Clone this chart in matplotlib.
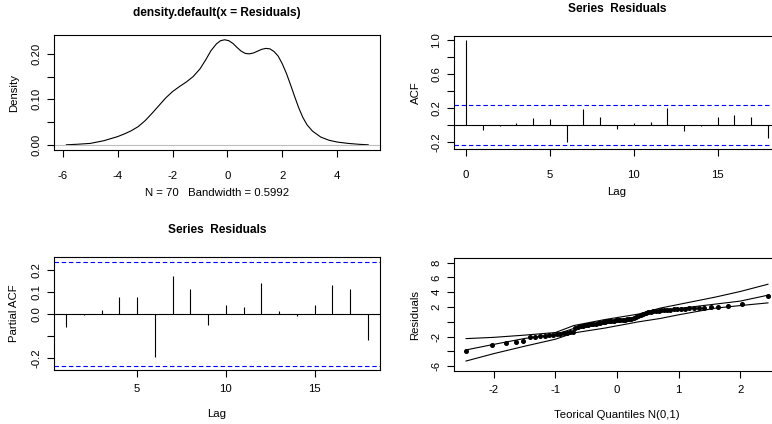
import numpy as np
import matplotlib
matplotlib.use("Agg")
import matplotlib.pyplot as plt
from statistics import NormalDist

plt.rcParams['font.family'] = ['Liberation Sans', 'DejaVu Sans']
plt.rcParams['axes.unicode_minus'] = False

# Kernel density of the residuals (x grid, density)
dens_x = [-5.87, -5.5, -5.0, -4.5, -4.0, -3.75, -3.5, -3.25, -3.0, -2.75, -2.5, -2.25,
          -2.0, -1.75, -1.5, -1.25, -1.0, -0.8, -0.6, -0.4, -0.25, -0.1, 0.05, 0.2,
          0.35, 0.5, 0.65, 0.8, 0.95, 1.1, 1.25, 1.4, 1.55, 1.7, 1.85, 2.0, 2.15,
          2.3, 2.45, 2.6, 2.75, 2.9, 3.1, 3.4, 3.7, 4.0, 4.4, 4.8, 5.13]
dens_y = [0.0, 0.001, 0.003, 0.009, 0.018, 0.024, 0.031, 0.040, 0.053, 0.069, 0.086,
          0.103, 0.117, 0.128, 0.138, 0.150, 0.167, 0.186, 0.207, 0.222, 0.229, 0.231,
          0.229, 0.223, 0.214, 0.206, 0.201, 0.200, 0.202, 0.206, 0.210, 0.212, 0.211,
          0.205, 0.195, 0.178, 0.157, 0.132, 0.106, 0.081, 0.060, 0.044, 0.030, 0.017,
          0.010, 0.006, 0.003, 0.001, 0.0]
n_obs = 70
bandwidth = 0.5992

# Autocorrelations
acf_lags = list(range(0, 19))
acf_vals = [1.0, -0.060, -0.010, 0.016, 0.075, 0.067, -0.208, 0.189, 0.098, -0.051,
            0.020, 0.028, 0.200, -0.071, -0.016, 0.094, 0.114, 0.094, -0.157]
pacf_lags = list(range(1, 19))
pacf_vals = [-0.060, -0.005, 0.016, 0.075, 0.076, -0.196, 0.172, 0.113, -0.051, 0.039,
             0.031, 0.140, 0.013, -0.009, 0.040, 0.131, 0.113, -0.118]
conf = 1.96 / np.sqrt(n_obs)

# Sorted residuals for the normal QQ plot
resid_sorted = [-4.0, -3.2, -2.8, -2.68, -2.66, -2.12, -2.03, -1.94, -1.88, -1.83,
                -1.78, -1.7, -1.62, -1.54, -1.47, -1.4, -1.32, -0.78, -0.7, -0.63,
                -0.56, -0.49, -0.42, -0.36, -0.3, -0.24, -0.18, -0.12, -0.06, 0.0,
                0.05, 0.09, 0.13, 0.16, 0.19, 0.22, 0.25, 0.28, 0.3, 0.32,
                0.35, 0.4, 0.47, 0.6, 0.8, 0.98, 1.12, 1.22, 1.3, 1.37,
                1.43, 1.48, 1.52, 1.56, 1.6, 1.63, 1.66, 1.69, 1.72, 1.75,
                1.78, 1.81, 1.85, 1.89, 1.93, 1.98, 2.05, 2.18, 2.45, 3.45]
# Simulated envelope (lower, median, upper)
env_q = [-2.45, -2.0, -1.5, -1.0, -0.7, -0.2, 0.35, 0.7, 1.0, 1.6, 2.0, 2.45]
env_upper = [-2.27, -2.1, -1.8, -1.45, -0.5, 0.3, 1.05, 1.85, 2.35, 3.35, 4.1, 5.08]
env_mid = [-3.8, -3.05, -2.25, -1.7, -0.9, -0.15, 0.6, 1.5, 1.8, 2.4, 2.8, 3.6]
env_lower = [-5.3, -4.3, -3.3, -2.35, -1.5, -0.85, 0.0, 0.45, 0.95, 1.85, 2.2, 2.56]

W, H = 772, 424
FS = 8.2
fig = plt.figure(figsize=(W / 100, H / 100), dpi=100)


def box(l, r, t, b):
    return [l / W, 1 - b / H, (r - l) / W, (b - t) / H]


def style(ax, xpad):
    for s in ax.spines.values():
        s.set_linewidth(0.8)
    ax.tick_params(axis='both', direction='out', length=5, width=0.8, labelsize=FS)
    ax.tick_params(axis='x', pad=xpad)
    ax.tick_params(axis='y', pad=4)
    for lab in ax.get_yticklabels():
        lab.set_rotation(90)
        lab.set_va('center')


def rlabels(ticks, shown, fmt):
    return [fmt.format(t) if t in shown else '' for t in ticks]


# density
ax1 = fig.add_axes(box(54, 380, 35, 150))
ax1.plot(dens_x, dens_y, color='black', lw=0.8)
ax1.axhline(0, color='#bebebe', lw=0.8)
ax1.set_xlim(-6.32, 5.56)
ax1.set_ylim(-0.0115, 0.2415)
ax1.set_xticks([-6, -4, -2, 0, 2, 4])
yt = [0.0, 0.05, 0.10, 0.15, 0.20]
ax1.set_yticks(yt)
ax1.set_yticklabels(rlabels(yt, [0.0, 0.10, 0.20], '{:.2f}'))
style(ax1, 10)
ax1.set_ylabel('Density', fontsize=FS, labelpad=9)
ax1.set_xlabel(f'N = {n_obs}   Bandwidth = {bandwidth}', fontsize=FS, labelpad=5.5)
fig.text(217 / W, 1 - 13 / H, 'density.default(x = Residuals)', ha='center', va='center',
         fontsize=8.6, fontweight='bold')

# acf
ax2 = fig.add_axes(box(454, 780, 36, 149))
ax2.vlines(acf_lags, 0, acf_vals, color='black', lw=0.8)
ax2.axhline(0, color='black', lw=0.8)
for c in (conf, -conf):
    ax2.axhline(c, color='blue', lw=0.8, linestyle=(0, (4, 2.5)))
ax2.set_xlim(-0.72, 18.72)
ax2.set_ylim(-0.285, 1.048)
ax2.set_xticks([0, 5, 10, 15])
yt = [-0.2, 0.0, 0.2, 0.4, 0.6, 0.8, 1.0]
ax2.set_yticks(yt)
ax2.set_yticklabels(rlabels(yt, [-0.2, 0.2, 0.6, 1.0], '{:.1f}'))
style(ax2, 10)
ax2.set_ylabel('ACF', fontsize=FS, labelpad=7.5)
ax2.set_xlabel('Lag', fontsize=FS, labelpad=5.5)
fig.text(617 / W, 1 - 9 / H, 'Series  Residuals', ha='center', va='center',
         fontsize=8.6, fontweight='bold')

# pacf
ax3 = fig.add_axes(box(54, 380, 257, 370))
ax3.vlines(pacf_lags, 0, pacf_vals, color='black', lw=0.8)
ax3.axhline(0, color='black', lw=0.8)
for c in (conf, -conf):
    ax3.axhline(c, color='blue', lw=0.8, linestyle=(0, (4, 2.5)))
ax3.set_xlim(0.32, 18.68)
ax3.set_ylim(-0.254, 0.257)
ax3.set_xticks([5, 10, 15])
yt = [-0.2, -0.1, 0.0, 0.1, 0.2]
ax3.set_yticks(yt)
ax3.set_yticklabels(rlabels(yt, [-0.2, 0.0, 0.1, 0.2], '{:.1f}'))
style(ax3, 5)
ax3.set_ylabel('Partial ACF', fontsize=FS, labelpad=9)
ax3.set_xlabel('Lag', fontsize=FS, labelpad=11)
fig.text(217 / W, 1 - 230 / H, 'Series  Residuals', ha='center', va='center',
         fontsize=8.6, fontweight='bold')

# normal qq with envelope
nd = NormalDist()
k = len(resid_sorted)
theo = [nd.inv_cdf((i + 0.5) / k) for i in range(k)]
ax4 = fig.add_axes(box(454, 780, 258, 371))
ax4.plot(theo, resid_sorted, 'o', color='black', ms=2.6)
for env in (env_upper, env_mid, env_lower):
    ax4.plot(env_q, env, color='black', lw=0.8)
ax4.set_xlim(-2.646, 2.646)
ax4.set_ylim(-6.65, 8.63)
ax4.set_xticks([-2, -1, 0, 1, 2])
yt = [-6, -4, -2, 0, 2, 4, 6, 8]
ax4.set_yticks(yt)
ax4.set_yticklabels(rlabels(yt, [-6, -2, 2, 4, 6, 8], '{:d}'))
style(ax4, 5)
ax4.set_ylabel('Residuals', fontsize=FS, labelpad=8)
ax4.set_xlabel('Teorical Quantiles N(0,1)', fontsize=FS, labelpad=11)

fig.savefig('out.png', dpi=100)
